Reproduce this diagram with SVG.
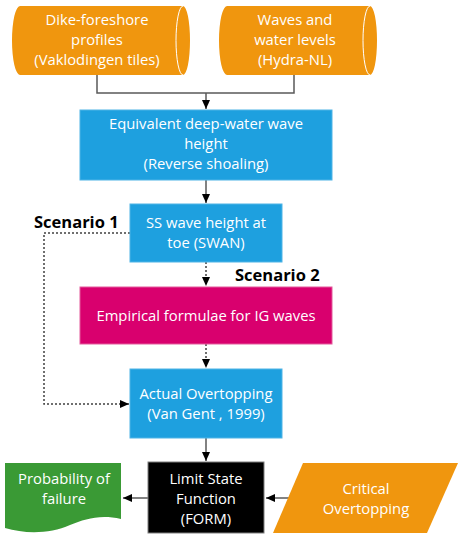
<svg xmlns="http://www.w3.org/2000/svg" width="465" height="539" viewBox="0 0 465 539">
<style>
text{font-family:"Open Sans","Noto Sans","Liberation Sans",sans-serif;font-size:14.8px;fill:#fff;text-anchor:middle}
.lbl{font-weight:bold;fill:#000;font-size:16.5px;text-anchor:start}
.orange{fill:#F0960E}
.blue{fill:#1EA0DF;stroke:#4FB4E6;stroke-width:1}
.line{fill:none;stroke:#595959;stroke-width:1.5}
.dot{fill:none;stroke:#404040;stroke-width:1.5;stroke-dasharray:2 2}
</style>
<defs>
<marker id="ah" markerWidth="10" markerHeight="10" refX="9" refY="5" orient="auto" markerUnits="userSpaceOnUse">
<path d="M0,1 L9,5 L0,9 Z" fill="#000"/>
</marker>
</defs>
<rect width="465" height="539" fill="#fff"/>
<g id="connectors">
<path class="line" d="M97,75 V93 H294 V75"/>
<path class="line" d="M206,93 V109" marker-end="url(#ah)"/>
<path class="line" d="M206,180 V203" marker-end="url(#ah)"/>
<path class="dot" d="M206,262 V286" marker-end="url(#ah)"/>
<path class="dot" d="M206,344 V368" marker-end="url(#ah)"/>
<path class="dot" d="M130,233 H44 V404 H129" marker-end="url(#ah)"/>
<path class="line" d="M206,438 V461" marker-end="url(#ah)"/>
<path class="line" d="M148,498 H123" marker-end="url(#ah)"/>
<path class="line" d="M290,498 H266" marker-end="url(#ah)"/>
</g>
<g id="n1">
<path class="orange" d="M20,6 H183 A7 34.5 0 0 1 183,75 H20 A8 34.5 0 0 1 20,6 Z"/>
<path d="M183,6 A7 34.5 0 0 0 183,75" fill="none" stroke="#fff" stroke-width="1"/>
<text x="97" y="25">Dike-foreshore</text>
<text x="97" y="45">profiles</text>
<text x="97" y="65">(Vaklodingen tiles)</text>
</g>
<g id="n2">
<path class="orange" d="M227,6 H370 A7 34.5 0 0 1 370,75 H227 A8 34.5 0 0 1 227,6 Z"/>
<path d="M370,6 A7 34.5 0 0 0 370,75" fill="none" stroke="#fff" stroke-width="1"/>
<text x="295" y="25">Waves and</text>
<text x="295" y="45">water levels</text>
<text x="295" y="65">(Hydra-NL)</text>
</g>
<g id="n3">
<rect class="blue" x="80" y="110" width="252" height="70"/>
<text x="206" y="129">Equivalent deep-water wave</text>
<text x="206" y="149">height</text>
<text x="206" y="169">(Reverse shoaling)</text>
</g>
<g id="n4">
<rect class="blue" x="130" y="204" width="152" height="58"/>
<text x="206" y="228">SS wave height at</text>
<text x="206" y="248">toe (SWAN)</text>
</g>
<text class="lbl" x="34" y="228">Scenario 1</text>
<text class="lbl" x="235" y="281">Scenario 2</text>
<g id="n5">
<rect x="80" y="287" width="252" height="57" fill="#D9006E" stroke="#E35A9C" stroke-width="1"/>
<text x="206" y="321">Empirical formulae for IG waves</text>
</g>
<g id="n6">
<rect class="blue" x="130" y="369" width="152" height="69"/>
<text x="206" y="399">Actual Overtopping</text>
<text x="206" y="419">(Van Gent , 1999)</text>
</g>
<g id="n7">
<rect x="148" y="462" width="116" height="71" fill="#000" stroke="#7F7F7F" stroke-width="1"/>
<text x="206" y="484">Limit State</text>
<text x="206" y="504">Function</text>
<text x="206" y="524">(FORM)</text>
</g>
<g id="n8">
<path d="M5,463 H121 V519 C100,514 85,519 70,525 C50,534 25,534 5,528 Z" fill="#3A9A35"/>
<text x="64" y="484">Probability of</text>
<text x="64" y="504">failure</text>
</g>
<g id="n9">
<path class="orange" d="M303,463 H458 L427,533 H273 Z"/>
<text x="366" y="494">Critical</text>
<text x="366" y="514">Overtopping</text>
</g>
</svg>
